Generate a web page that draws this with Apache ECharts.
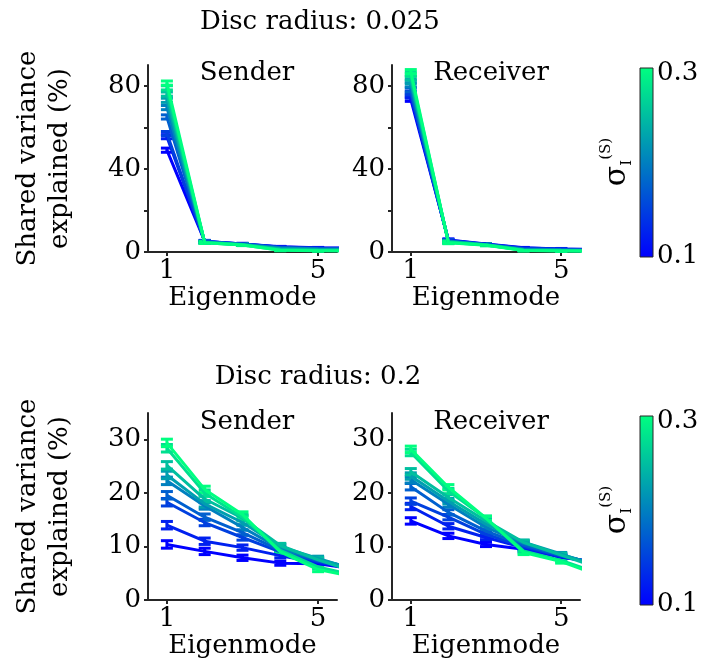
<!DOCTYPE html>
<html>
<head>
<meta charset="utf-8">
<script src="https://cdn.jsdelivr.net/npm/echarts@6/dist/echarts.min.js"></script>
<style>
  html, body { margin: 0; padding: 0; background: #fff; }
  #chart { width: 702px; height: 669px; }
</style>
</head>
<body>
<div id="chart"></div>
<script>
// sigma_I^(S) values, one line each (blue -> green)
const sigmas = [0.1, 0.125, 0.15, 0.175, 0.2, 0.225, 0.25, 0.275, 0.3];
const eigenmodes = [1, 2, 3, 4, 5, 6];

// Disc radius 0.025, rows = sigma, cols = eigenmode
const senderSmall = [
  [49, 5.2, 3.9, 2.5, 2.0, 1.8],
  [55.5, 5.1, 3.8, 2.4, 1.9, 1.7],
  [57, 5.0, 3.8, 2.3, 1.8, 1.6],
  [65, 4.9, 3.7, 2.1, 1.6, 1.4],
  [69.5, 4.8, 3.6, 1.9, 1.4, 1.2],
  [73, 4.7, 3.6, 1.6, 1.2, 1.0],
  [76, 4.6, 3.5, 1.3, 0.9, 0.8],
  [79, 4.5, 3.4, 1.0, 0.7, 0.6],
  [81.3, 4.5, 3.4, 0.8, 0.6, 0.5]
];
const receiverSmall = [
  [73.5, 5.8, 3.8, 2.0, 1.5, 1.2],
  [75, 5.6, 3.7, 1.9, 1.4, 1.1],
  [76.5, 5.4, 3.6, 1.7, 1.3, 1.0],
  [78, 5.3, 3.6, 1.5, 1.1, 0.9],
  [80.5, 5.1, 3.5, 1.3, 1.0, 0.8],
  [82, 5.0, 3.5, 1.1, 0.8, 0.6],
  [83.7, 4.8, 3.4, 0.9, 0.7, 0.5],
  [85.5, 4.6, 3.4, 0.8, 0.6, 0.4],
  [86.8, 4.5, 3.3, 0.7, 0.5, 0.4]
];
// Disc radius 0.2
const senderLarge = [
  [10.4, 9.1, 7.9, 6.9, 6.8, 5.8],
  [14, 11, 9.8, 8.3, 7.0, 5.8],
  [18.3, 14.5, 11.7, 9.0, 7.2, 5.9],
  [19.6, 15.5, 12.6, 9.3, 7.4, 5.9],
  [22.3, 17.6, 13.6, 9.6, 7.6, 5.8],
  [23.4, 18, 14.5, 10, 7.8, 5.6],
  [25.2, 18.9, 15.3, 10.2, 7.5, 5.2],
  [28.4, 20, 15.5, 9.3, 6.2, 4.5],
  [29.4, 20.7, 16, 9.0, 5.7, 4.3]
];
const receiverLarge = [
  [14.8, 12, 10.4, 9.5, 8.0, 7.0],
  [17.5, 13.8, 11.7, 9.8, 8.1, 6.9],
  [18.5, 15.5, 12.3, 10, 8.2, 6.8],
  [21.2, 16.4, 12.9, 10.3, 8.3, 6.7],
  [22.5, 17.9, 13.6, 10.6, 8.5, 6.5],
  [23.2, 18.5, 14.2, 10.8, 8.6, 6.3],
  [24, 19.2, 14.8, 10.8, 8.4, 6.0],
  [27.6, 20.4, 15.3, 9.2, 7.4, 5.0],
  [28.2, 21.1, 15.3, 8.9, 7.2, 4.6]
];
// error bar half-widths per eigenmode (1..5)
const errSenderSmall = [1.0, 0.4, 0.3, 0.2, 0.2];
const errReceiverSmall = [1.0, 0.5, 0.3, 0.2, 0.2];
const errSenderLarge = [0.7, 0.6, 0.5, 0.4, 0.4];
const errReceiverLarge = [0.6, 0.5, 0.4, 0.4, 0.3];

const panelTitles = ['Sender', 'Receiver', 'Sender', 'Receiver'];
const rowTitles = ['Disc radius: 0.025', 'Disc radius: 0.2'];
const yTicksSmall = [0, 20, 40, 60, 80];
const yLabelsSmall = [0, 40, 80];
const yTicksLarge = [0, 10, 20, 30];
const xTicks = [1, 5];
const cbarLabels = ['0.3', '0.1'];

const FONT = 'DejaVu Serif';
const AXIS = '#262626';

// matlab "winter" colormap
function winter(t) {
  const g = Math.round(255 * t);
  const b = Math.round(255 * (1 - 0.5 * t));
  return 'rgb(0,' + g + ',' + b + ')';
}

function renderErr(params, api) {
  const x = api.value(0), y = api.value(1), e = api.value(2);
  const lo = api.coord([x, y - e]);
  const hi = api.coord([x, y + e]);
  const w = 6;
  const style = { stroke: api.visual('color'), lineWidth: 3 };
  return {
    type: 'group',
    children: [
      { type: 'line', shape: { x1: lo[0], y1: lo[1], x2: hi[0], y2: hi[1] }, style: style },
      { type: 'line', shape: { x1: lo[0] - w, y1: lo[1], x2: lo[0] + w, y2: lo[1] }, style: style },
      { type: 'line', shape: { x1: hi[0] - w, y1: hi[1], x2: hi[0] + w, y2: hi[1] }, style: style }
    ]
  };
}

const grids = [
  { left: 148, top: 65, width: 189, height: 187 },
  { left: 392, top: 65, width: 188, height: 187 },
  { left: 148, top: 413, width: 189, height: 187 },
  { left: 392, top: 413, width: 188, height: 187 }
];
const panelData = [senderSmall, receiverSmall, senderLarge, receiverLarge];
const panelErr = [errSenderSmall, errReceiverSmall, errSenderLarge, errReceiverLarge];

const xAxes = grids.map((g, i) => ({
  type: 'value',
  gridIndex: i,
  min: 0.5,
  max: 5.5,
  name: 'Eigenmode',
  nameLocation: 'middle',
  nameGap: 33,
  nameTextStyle: { fontFamily: FONT, fontSize: 26, color: '#000' },
  axisLine: { lineStyle: { color: AXIS, width: 2 } },
  axisTick: { show: true, length: 4, customValues: xTicks, lineStyle: { color: AXIS, width: 2 } },
  axisLabel: { customValues: xTicks, margin: 6, fontFamily: FONT, fontSize: 26, color: '#000' },
  splitLine: { show: false }
}));

const yAxes = grids.map((g, i) => {
  const small = i < 2;
  return {
    type: 'value',
    gridIndex: i,
    min: 0,
    max: small ? 90 : 35,
    name: i % 2 === 0 ? 'Shared variance\nexplained (%)' : '',
    nameLocation: 'middle',
    nameRotate: 90,
    nameGap: 72,
    nameTextStyle: { fontFamily: FONT, fontSize: 26, color: '#000', lineHeight: 32 },
    axisLine: { show: true, lineStyle: { color: AXIS, width: 2 } },
    axisTick: { show: true, length: 4, customValues: small ? yTicksSmall : yTicksLarge, lineStyle: { color: AXIS, width: 2 } },
    axisLabel: { customValues: small ? yLabelsSmall : yTicksLarge, margin: 7, fontFamily: FONT, fontSize: 26, color: '#000' },
    splitLine: { show: false }
  };
});

const series = [];
panelData.forEach((rows, p) => {
  rows.forEach((vals, k) => {
    const color = winter(k / (sigmas.length - 1));
    series.push({
      type: 'line',
      xAxisIndex: p,
      yAxisIndex: p,
      data: eigenmodes.map((e, j) => [e, vals[j]]),
      showSymbol: false,
      clip: true,
      lineStyle: { color: color, width: 3 },
      itemStyle: { color: color }
    });
    series.push({
      type: 'custom',
      xAxisIndex: p,
      yAxisIndex: p,
      renderItem: renderErr,
      itemStyle: { color: color },
      data: panelErr[p].map((er, j) => [eigenmodes[j], vals[j], er])
    });
  });
});

const titles = [
  { text: rowTitles[0], left: 320, top: 9 },
  { text: rowTitles[1], left: 318, top: 364 },
  { text: panelTitles[0], left: 247, top: 60 },
  { text: panelTitles[1], left: 491, top: 60 },
  { text: panelTitles[2], left: 247, top: 409 },
  { text: panelTitles[3], left: 491, top: 409 }
].map(t => ({
  text: t.text,
  left: t.left,
  top: t.top,
  textAlign: 'center',
  padding: 0,
  textStyle: { fontFamily: FONT, fontSize: 26, fontWeight: 'normal', color: '#000' }
}));

function colorbar(top) {
  return [
    {
      type: 'rect',
      shape: { x: 640, y: top, width: 13, height: 189 },
      style: {
        fill: {
          type: 'linear', x: 0, y: 0, x2: 0, y2: 1,
          colorStops: [{ offset: 0, color: winter(1) }, { offset: 1, color: winter(0) }]
        },
        stroke: AXIS,
        lineWidth: 1
      }
    },
    {
      type: 'text', x: 657, y: top + 5,
      style: { text: cbarLabels[0], font: '26px "' + FONT + '"', fill: '#000', verticalAlign: 'middle' }
    },
    {
      type: 'text', x: 657, y: top + 188,
      style: { text: cbarLabels[1], font: '26px "' + FONT + '"', fill: '#000', verticalAlign: 'middle' }
    },
    {
      type: 'text', x: 617, y: top + 94, rotation: Math.PI / 2,
      style: {
        text: '{s|σ}{sub|I}{sup|(S)}',
        align: 'center',
        verticalAlign: 'middle',
        rich: {
          s: { fontFamily: FONT, fontSize: 30, fill: '#000', lineHeight: 36, verticalAlign: 'middle' },
          sub: { fontFamily: FONT, fontSize: 15, fill: '#000', lineHeight: 36, verticalAlign: 'bottom' },
          sup: { fontFamily: FONT, fontSize: 15, fill: '#000', lineHeight: 36, verticalAlign: 'top' }
        }
      }
    }
  ];
}

const chart = echarts.init(document.getElementById('chart'));
chart.setOption({
  animation: false,
  backgroundColor: '#fff',
  title: titles,
  grid: grids,
  xAxis: xAxes,
  yAxis: yAxes,
  series: series,
  graphic: colorbar(68).concat(colorbar(416))
});
</script>
</body>
</html>
